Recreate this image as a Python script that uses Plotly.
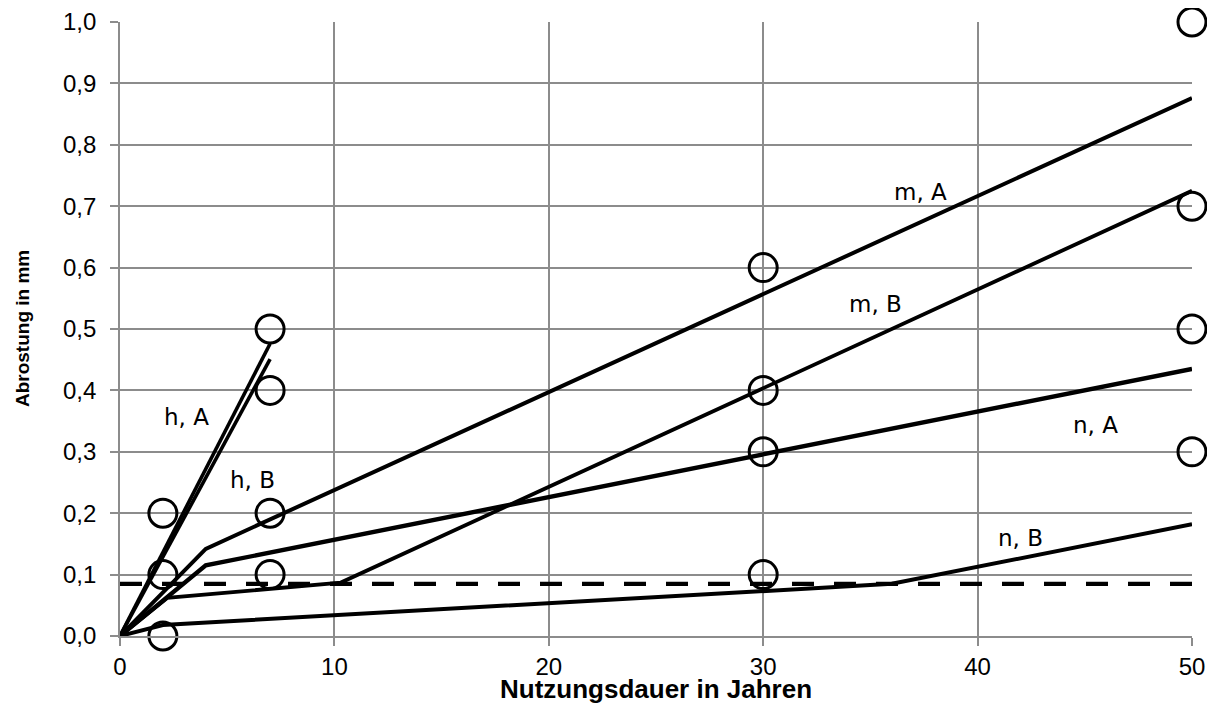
import plotly.graph_objects as go

# ---- data ----
years_hA = [0, 7]
abr_hA = [0, 0.476]
years_hB = [0, 7]
abr_hB = [0, 0.451]
years_mA = [0, 4, 50]
abr_mA = [0, 0.142, 0.876]
years_mB = [0, 2.2, 10.3, 50]
abr_mB = [0, 0.062, 0.087, 0.725]
years_nA = [0, 4, 50]
abr_nA = [0, 0.115, 0.435]
years_nB = [0, 2, 36, 50]
abr_nB = [0, 0.018, 0.085, 0.182]

limit_x = [0, 50]
limit_y = [0.085, 0.085]

meas_x = [2, 2, 2, 7, 7, 7, 7, 30, 30, 30, 30, 50, 50, 50, 50]
meas_y = [0.2, 0.1, 0.0, 0.5, 0.4, 0.2, 0.1, 0.6, 0.4, 0.3, 0.1, 1.0, 0.7, 0.5, 0.3]

label_text = ["h, A", "h, B", "m, A", "m, B", "n, A", "n, B"]
label_x = [3.08, 6.18, 37.34, 35.24, 45.48, 41.98]
label_y = [0.356, 0.254, 0.723, 0.5415, 0.344, 0.160]

x_ticks = [0, 10, 20, 30, 40, 50]
x_title = "Nutzungsdauer in Jahren"
y_title = "Abrostung in mm"

fig = go.Figure()

line_sets = [
    (years_hA, abr_hA, 3.6),
    (years_hB, abr_hB, 3.6),
    (years_mA, abr_mA, 4),
    (years_mB, abr_mB, 3.8),
    (years_nA, abr_nA, 4.4),
    (years_nB, abr_nB, 4),
]
for xs, ys, w in line_sets:
    fig.add_trace(go.Scatter(x=xs, y=ys, mode="lines",
                             line=dict(color="black", width=w),
                             showlegend=False, cliponaxis=False))

fig.add_trace(go.Scatter(x=limit_x, y=limit_y, mode="lines",
                         line=dict(color="black", width=4.2, dash="22px,20px"),
                         showlegend=False, cliponaxis=False))

fig.add_trace(go.Scatter(x=meas_x, y=meas_y, mode="markers",
                         marker=dict(symbol="circle-open", size=28,
                                     color="black", line=dict(color="black", width=3)),
                         showlegend=False, cliponaxis=False))

for t, xv, yv in zip(label_text, label_x, label_y):
    fig.add_annotation(x=xv, y=yv, text=t, showarrow=False,
                       font=dict(family="DejaVu Sans", size=23, color="black"),
                       xanchor="center", yanchor="middle")

# axis titles
fig.add_annotation(xref="paper", yref="paper", x=0.5, y=-0.0865,
                   text="<b>" + x_title + "</b>", showarrow=False,
                   font=dict(family="Liberation Sans, Arial", size=26, color="black"),
                   xanchor="center", yanchor="middle")
fig.add_annotation(xref="paper", yref="paper", x=-0.0914, y=0.5,
                   text="<b>" + y_title + "</b>", showarrow=False, textangle=-90,
                   font=dict(family="Liberation Sans, Arial", size=19, color="black"),
                   xanchor="center", yanchor="middle")

grid_col = "#8c8c8c"
fig.update_layout(
    width=1215, height=704,
    margin=dict(l=112, r=31, t=14, b=76, autoexpand=False),
    paper_bgcolor="white", plot_bgcolor="white",
    separators=",.",
    font=dict(family="Liberation Sans, Arial", color="black"),
    xaxis=dict(range=[0, 50], tickvals=x_ticks, showgrid=True, gridcolor=grid_col,
               gridwidth=1.6, showline=True, linecolor=grid_col, linewidth=1.6,
               ticks="outside", ticklen=8, tickcolor=grid_col, tickwidth=1.6,
               tickfont=dict(size=24, color="black"), zeroline=False,
               automargin=False),
    yaxis=dict(range=[0, 1.0], dtick=0.1, tickformat=".1f", showgrid=True,
               gridcolor=grid_col, gridwidth=1.6, showline=True, linecolor=grid_col,
               linewidth=1.6, ticks="outside", ticklen=8, tickcolor=grid_col,
               tickwidth=1.6, tickfont=dict(size=24, color="black"), zeroline=False,
               ticklabelstandoff=9, automargin=False),
)

fig.write_html("out.html")
